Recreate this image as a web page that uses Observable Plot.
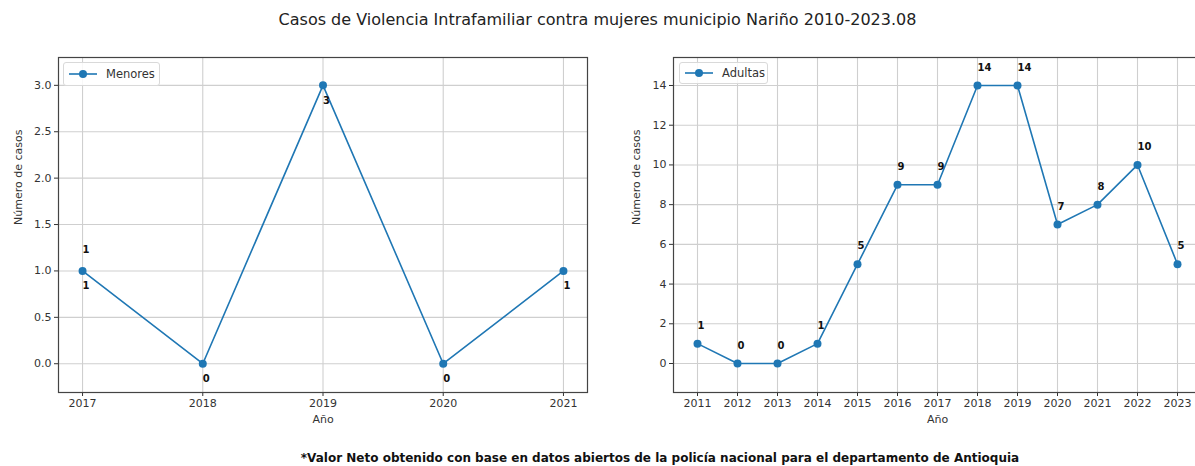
<!DOCTYPE html>
<html>
<head>
<meta charset="utf-8">
<script src="https://cdn.jsdelivr.net/npm/d3@7"></script>
<script src="https://cdn.jsdelivr.net/npm/@observablehq/plot@0.6"></script>
<style>
html, body { margin: 0; padding: 0; background: #fff; overflow: hidden; }
#root { position: relative; width: 1195px; height: 466px; overflow: hidden; font-family: "DejaVu Sans", sans-serif; color: #222; }
.abs { position: absolute; }
#title { left: 0; width: 1195px; top: 10px; text-align: center; font-size: 16px; line-height: 20px; white-space: nowrap; }
#caption { left: 660px; top: 450px; transform: translateX(-50%); font-size: 12px; font-weight: bold; line-height: 16px; white-space: nowrap; color: #111; }
.legend { border: 1px solid #d9d9d9; border-radius: 3px; background: rgba(255,255,255,0.85); display: flex; align-items: center; font-size: 11.5px; box-sizing: border-box; }
.legend svg { display: block; }
#right svg, #left svg { max-width: none !important; }
</style>
</head>
<body>
<div id="root">
  <div id="title" class="abs">Casos de Violencia Intrafamiliar contra mujeres municipio Nariño 2010-2023.08</div>
  <div id="left" class="abs" style="left:0px; top:40px; width:600px;"></div>
  <div id="right" class="abs" style="left:600px; top:40px; width:601px;"></div>
  <div id="legL" class="abs legend" style="left:63px; top:62px; width:97px; height:24px;"></div>
  <div id="legR" class="abs legend" style="left:679px; top:62px; width:89px; height:22px;"></div>
  <div id="caption" class="abs">*Valor Neto obtenido con base en datos abiertos de la policía nacional para el departamento de Antioquia</div>
</div>
<script>
// ---- Data ----
const yearsMenores = [2017, 2018, 2019, 2020, 2021];
const casosMenores = [1, 0, 3, 0, 1];
const yearsAdultas = [2011, 2012, 2013, 2014, 2015, 2016, 2017, 2018, 2019, 2020, 2021, 2022, 2023];
const casosAdultas = [1, 0, 0, 1, 5, 9, 9, 14, 14, 7, 8, 10, 5];
const ticksYMenores = [0, 0.5, 1, 1.5, 2, 2.5, 3];
const ticksYAdultas = [0, 2, 4, 6, 8, 10, 12, 14];
const extraLabelYearsMenores = [2017]; // year with an additional label above the point
const seriesNames = ["Menores", "Adultas"];
const titleY = "Número de casos";
const titleX = "Año";

const blue = "#1f77b4";
const menores = yearsMenores.map((year, i) => ({year, value: casosMenores[i]}));
const adultas = yearsAdultas.map((year, i) => ({year, value: casosAdultas[i]}));
const menoresExtra = menores.filter(d => extraLabelYearsMenores.includes(d.year));

const baseStyle = {fontFamily: "DejaVu Sans", fontSize: "11px", color: "#333", background: "transparent", overflow: "visible", maxWidth: "none"};
const gridStyle = {stroke: "#cfcfcf", strokeOpacity: 1, strokeWidth: 1.1};
const labelStyle = {textAnchor: "start", fontWeight: "bold", fontSize: 10, fill: "#111"};

const left = Plot.plot({
  width: 600, height: 392,
  marginLeft: 58, marginRight: 13, marginTop: 17, marginBottom: 40,
  style: baseStyle,
  x: {domain: [2016.8, 2021.2], ticks: yearsMenores, tickFormat: d => String(d), tickSize: 4, tickPadding: 3, label: null},
  y: {domain: [-0.31, 3.30], ticks: ticksYMenores, tickFormat: d3.format(".1f"), tickSize: 4, tickPadding: 3, label: null},
  marks: [
    Plot.gridX(yearsMenores, gridStyle),
    Plot.gridY(ticksYMenores, gridStyle),
    Plot.frame({stroke: "#444", strokeWidth: 1.2}),
    Plot.line(menores, {x: "year", y: "value", stroke: blue, strokeWidth: 1.6}),
    Plot.dot(menores, {x: "year", y: "value", r: 4, fill: blue}),
    Plot.text(menores, {x: "year", y: "value", text: d => String(d.value), dy: 15, ...labelStyle}),
    Plot.text(menoresExtra, {x: "year", y: "value", text: d => String(d.value), dy: -21, ...labelStyle}),
    Plot.text([titleY], {text: d => d, frameAnchor: "left", rotate: -90, dx: -40, fontSize: 11, fill: "#333"}),
    Plot.text([titleX], {text: d => d, frameAnchor: "bottom", dy: 30, fontSize: 11, fill: "#333"})
  ]
});
document.getElementById("left").appendChild(left);

const right = Plot.plot({
  width: 601, height: 392,
  marginLeft: 73, marginRight: 0, marginTop: 17, marginBottom: 40,
  style: baseStyle,
  x: {domain: [2010.4, 2023.6], ticks: yearsAdultas, tickFormat: d => String(d), tickSize: 4, tickPadding: 3, label: null},
  y: {domain: [-1.46, 15.41], ticks: ticksYAdultas, tickFormat: d => String(d), tickSize: 4, tickPadding: 3, label: null},
  marks: [
    Plot.gridX(yearsAdultas, gridStyle),
    Plot.gridY(ticksYAdultas, gridStyle),
    Plot.frame({stroke: "#444", strokeWidth: 1.2}),
    Plot.line(adultas, {x: "year", y: "value", stroke: blue, strokeWidth: 1.6}),
    Plot.dot(adultas, {x: "year", y: "value", r: 4, fill: blue}),
    Plot.text(adultas, {x: "year", y: "value", text: d => String(d.value), dy: -18, ...labelStyle}),
    Plot.text([titleY], {text: d => d, frameAnchor: "left", rotate: -90, dx: -37, fontSize: 11, fill: "#333"}),
    Plot.text([titleX], {text: d => d, frameAnchor: "bottom", dy: 30, fontSize: 11, fill: "#333"})
  ]
});
document.getElementById("right").appendChild(right);

function legend(id, name) {
  const el = document.getElementById(id);
  el.innerHTML = `<svg width="36" height="12" style="margin-left:3px"><line x1="2" y1="6" x2="30" y2="6" stroke="${blue}" stroke-width="1.6"/><circle cx="16" cy="6" r="4" fill="${blue}"/></svg><span style="margin-left:3px;color:#333">${name}</span>`;
}
legend("legL", seriesNames[0]);
legend("legR", seriesNames[1]);
</script>
</body>
</html>
